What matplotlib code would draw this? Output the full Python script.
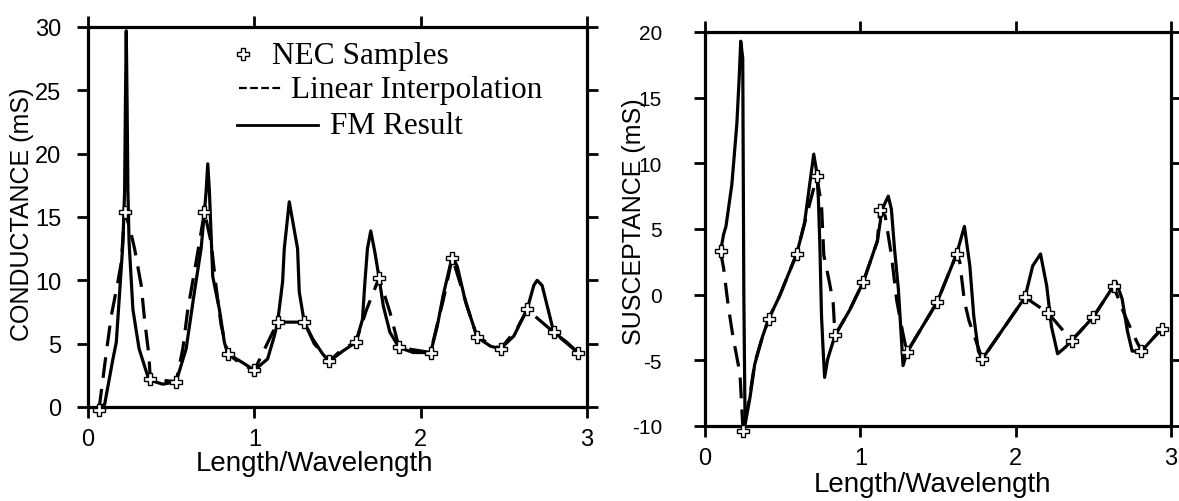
import numpy as np
import matplotlib.pyplot as plt
from matplotlib.lines import Line2D

plt.rcParams['axes.unicode_minus'] = False

# ---- conductance (left) ----
g_nec_x = [0.066, 0.22, 0.375, 0.53, 0.70, 0.84, 1.00, 1.14, 1.30, 1.45, 1.61, 1.75,
           1.87, 2.06, 2.19, 2.34, 2.48, 2.64, 2.80, 2.945]
g_nec_y = [-0.2, 15.4, 2.2, 2.0, 15.4, 4.2, 2.9, 6.7, 6.7, 3.6, 5.1, 10.2,
           4.7, 4.3, 11.8, 5.5, 4.6, 7.7, 5.9, 4.3]

g_lin_x = [0.066, 0.11, 0.14, 0.18, 0.20, 0.22, 0.25, 0.28, 0.32, 0.34, 0.365, 0.375,
           0.53, 0.57, 0.60, 0.64, 0.67, 0.70, 0.72, 0.74, 0.77, 0.80, 0.84, 0.92,
           1.00, 1.07, 1.14, 1.30, 1.36, 1.45, 1.53, 1.61, 1.675, 1.75, 1.815, 1.87,
           2.06, 2.09, 2.135, 2.19, 2.29, 2.34, 2.48, 2.58, 2.64, 2.80, 2.945]
g_lin_y = [-0.2, 4.3, 7.2, 9.9, 11.4, 15.4, 14.2, 12.5, 9.6, 6.9, 4.2, 2.2,
           2.0, 4.6, 7.7, 10.7, 13.0, 15.4, 14.2, 13.0, 9.5, 6.5, 4.2, 3.4,
           2.9, 4.8, 6.7, 6.7, 5.0, 3.6, 4.6, 5.1, 7.7, 10.2, 7.5, 4.7,
           4.3, 6.0, 8.4, 11.8, 7.5, 5.5, 4.6, 6.2, 7.7, 5.9, 4.3]

g_fm_x = [0.066, 0.10, 0.125, 0.15, 0.17, 0.19, 0.21, 0.22, 0.225, 0.23, 0.235, 0.24,
          0.247, 0.27, 0.307, 0.36, 0.375, 0.45, 0.53, 0.59, 0.64, 0.68, 0.70, 0.71,
          0.72, 0.73, 0.75, 0.79, 0.82, 0.84, 0.93, 1.00, 1.08, 1.12, 1.14, 1.17,
          1.18, 1.21, 1.26, 1.27, 1.30, 1.35, 1.41, 1.45, 1.53, 1.61, 1.65, 1.665,
          1.68, 1.70, 1.725, 1.75, 1.775, 1.815, 1.87, 1.955, 2.06, 2.10, 2.135,
          2.19, 2.22, 2.27, 2.34, 2.42, 2.48, 2.56, 2.64, 2.68, 2.70, 2.73, 2.77,
          2.80, 2.88, 2.945]
g_fm_y = [0.0, 0.2, 2.0, 3.8, 5.1, 9.0, 13.0, 17.0, 24.0, 29.7, 24.0, 17.0,
          13.0, 7.7, 4.6, 2.4, 2.1, 1.8, 2.0, 4.6, 9.1, 12.5, 15.4, 17.0,
          19.2, 17.0, 10.3, 7.7, 5.1, 4.2, 3.5, 2.9, 3.8, 5.6, 6.7, 9.9,
          12.5, 16.2, 12.5, 9.1, 6.7, 5.4, 4.2, 3.6, 4.4, 5.1, 6.9, 9.9,
          12.5, 13.9, 12.2, 10.2, 8.0, 5.9, 4.7, 4.3, 4.3, 6.4, 8.8,
          11.9, 11.1, 8.3, 5.5, 4.8, 4.6, 5.6, 7.7, 9.6, 10.0, 9.6, 7.5,
          5.9, 5.1, 4.3]

# ---- susceptance (right) ----
b_nec_x = [0.10, 0.245, 0.41, 0.59, 0.72, 0.837, 1.02, 1.125, 1.30, 1.495, 1.62,
           1.785, 2.06, 2.21, 2.36, 2.50, 2.63, 2.81, 2.94]
b_nec_y = [3.3, -10.4, -1.85, 3.1, 9.0, -3.1, 1.0, 6.45, -4.4, -0.55, 3.1,
           -4.9, -0.2, -1.4, -3.5, -1.7, 0.66, -4.3, -2.6]

b_lin_x = [0.10, 0.12, 0.15, 0.18, 0.225, 0.245, 0.29, 0.32, 0.37, 0.41, 0.48, 0.59,
           0.64, 0.72, 0.75, 0.765, 0.80, 0.825, 0.837, 0.93, 1.02, 1.11, 1.125,
           1.16, 1.20, 1.235, 1.275, 1.30, 1.34, 1.495, 1.62, 1.64, 1.67, 1.70,
           1.785, 2.06, 2.21, 2.36, 2.50, 2.63, 2.70, 2.76, 2.81, 2.94]
b_lin_y = [3.3, 2.0, -0.9, -3.2, -6.0, -10.4, -7.6, -5.2, -3.2, -1.85, -0.1, 3.1,
           5.4, 9.0, 6.8, 3.0, 1.0, -0.6, -3.1, -1.2, 1.0, 4.1, 6.45,
           6.0, 3.0, -0.5, -3.0, -4.4, -3.6, -0.55, 3.1, 2.5, -0.5, -2.0,
           -4.9, -0.2, -1.4, -3.5, -1.7, 0.66, -1.5, -3.1, -4.3, -2.6]

b_fm_x = [0.10, 0.12, 0.135, 0.173, 0.205, 0.22, 0.23, 0.243, 0.25, 0.258, 0.29,
          0.32, 0.37, 0.41, 0.48, 0.59, 0.64, 0.70, 0.72, 0.73, 0.74, 0.75, 0.76,
          0.77, 0.79, 0.837, 0.93, 1.02, 1.11, 1.14, 1.18, 1.20, 1.22, 1.245,
          1.275, 1.30, 1.34, 1.495, 1.62, 1.67, 1.705, 1.73, 1.76, 1.785, 2.06,
          2.11, 2.16, 2.20, 2.23, 2.27, 2.32, 2.36, 2.50, 2.63, 2.645, 2.685,
          2.72, 2.75, 2.81, 2.94]
b_fm_y = [3.3, 4.6, 5.2, 8.4, 13.0, 16.5, 19.3, 18.0, 0.0, -9.9, -7.8,
          -5.3, -3.2, -1.85, -0.1, 3.1, 5.4, 10.7, 9.3, 7.3, 3.5, -1.6, -4.1,
          -6.3, -4.9, -3.1, -1.2, 1.0, 4.1, 6.5, 7.5, 6.5, 3.5, 0.4,
          -5.4, -4.4, -3.6, -0.55, 3.1, 5.2, 2.2, -1.6, -4.3, -4.9, -0.2,
          2.2, 3.1, 0.66, -2.4, -4.5, -4.0, -3.5, -1.7, 0.66, 1.0, -0.3,
          -2.8, -4.3, -4.3, -2.6]

W, H = 1179, 502
fig = plt.figure(figsize=(W / 100, H / 100), dpi=100)
sans = 'Liberation Sans'
serif = 'Liberation Serif'

ax1 = fig.add_axes([88 / W, 1 - 408 / H, 499 / W, 380 / H])
ax2 = fig.add_axes([705 / W, 1 - 427 / H, 466 / W, 394 / H])

mk = dict(marker='P', ms=9, mfc='white', mec='black', mew=1.0, ls='none',
          clip_on=False, zorder=5)
dash = dict(color='black', lw=2.3, dashes=(6.5, 3.5))
solid = dict(color='black', lw=2.3, solid_joinstyle='round')

ax1.plot(g_lin_x, g_lin_y, **dash)
ax1.plot(g_fm_x, g_fm_y, **solid)
ax1.plot(g_nec_x, g_nec_y, **mk)

ax2.plot(b_lin_x, b_lin_y, **dash)
ax2.plot(b_fm_x, b_fm_y, **solid)
ax2.plot(b_nec_x, b_nec_y, **mk)

ax1.set_xlim(0, 3)
ax1.set_ylim(0, 30)
ax1.set_yticks(np.arange(0, 31, 5))
ax2.set_xlim(0, 3)
ax2.set_ylim(-10, 20)
ax2.set_yticks(np.arange(-10, 21, 5))

for ax, ysize, ypad in ((ax1, 17, 11), (ax2, 15, 23)):
    ax.set_xticks([0, 1, 2, 3])
    for s in ax.spines.values():
        s.set_linewidth(2.3)
    ax.tick_params(direction='out', length=8, width=2, top=True, right=True)
    ax.tick_params(axis='x', labelsize=17, pad=7)
    ax.tick_params(axis='y', labelsize=ysize, pad=ypad)
    for lab in ax.get_xticklabels() + ax.get_yticklabels():
        lab.set_family(sans)

fig.text(22 / W, 1 - 214 / H, 'CONDUCTANCE (mS)', rotation=90, ha='center', va='center',
         fontsize=18, family=sans)
fig.text(634 / W, 1 - 222 / H, 'SUSCEPTANCE (mS)', rotation=90, ha='center', va='center',
         fontsize=18, family=sans)
fig.text(314 / W, 1 - 464 / H, 'Length/Wavelength', ha='center', va='center',
         fontsize=20, family=sans)
fig.text(933 / W, 1 - 485 / H, 'Length/Wavelength', ha='center', va='center',
         fontsize=20, family=sans)

# hand-laid legend, as in the original
tf = fig.transFigure
fig.add_artist(Line2D([243 / W], [1 - 55 / H], transform=tf, **mk))
fig.text(272 / W, 1 - 64 / H, 'NEC Samples', fontsize=22.5, family=serif, va='baseline')
fig.add_artist(Line2D([239 / W, 283 / W], [1 - 89 / H] * 2, transform=tf,
                      color='black', lw=1.6, dashes=(3.5, 1.5)))
fig.text(291 / W, 1 - 98 / H, 'Linear Interpolation', fontsize=22.5, family=serif, va='baseline')
fig.add_artist(Line2D([237 / W, 318 / W], [1 - 126 / H] * 2, transform=tf,
                      color='black', lw=2.0))
fig.text(330 / W, 1 - 134 / H, 'FM Result', fontsize=22.5, family=serif, va='baseline')

fig.savefig('out.png', dpi=100)
